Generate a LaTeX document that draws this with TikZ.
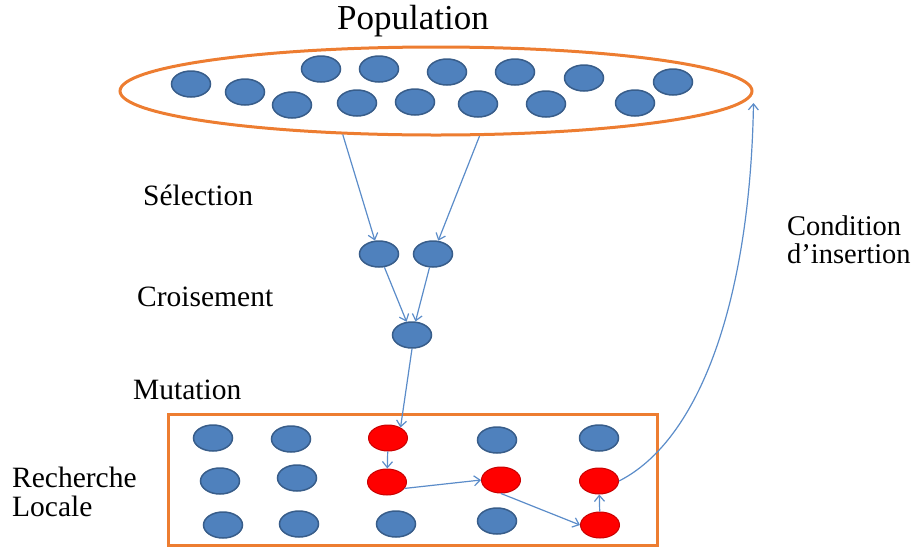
\documentclass[tikz,border=0pt]{standalone}
\usepackage{fontspec}
\setmainfont{Liberation Serif}
\usepackage{xcolor}
\usepackage{tikz}
\usetikzlibrary{arrows.meta}
\usetikzlibrary{shapes.geometric}
\definecolor{dotblue}{HTML}{4F81BD}
\definecolor{dotrim}{HTML}{385D8A}
\definecolor{linkblue}{HTML}{5B8CC9}
\definecolor{frameorange}{HTML}{ED7D31}
\definecolor{dotred}{HTML}{FF0000}
\definecolor{redrim}{HTML}{C80000}
\tikzset{
    dotnode/.style = {ellipse, inner sep=0pt, minimum width=39pt, minimum height=26pt},
    blue_dot/.style = {dotnode, draw=dotrim, fill=dotblue, line width=1.5pt},
    red_dot/.style = {dotnode, draw=redrim, fill=dotred, line width=1pt},
    pop_ring/.style = {ellipse, draw=frameorange, line width=3pt, minimum width=632pt, minimum height=88pt, inner sep=0pt},
    ls_box/.style = {rectangle, draw=frameorange, line width=3pt, minimum width=489pt, minimum height=131pt, inner sep=0pt},
    lbl/.style = {anchor=west, inner sep=0pt, align=left, font=\fontsize{29.5}{29}\selectfont},
    flow/.style = {->, draw=linkblue, line width=1.2pt}
}

\begin{document}
\begin{tikzpicture}
            [x=1pt, y=-1pt, >={Straight Barb[length=6pt, width=10pt]}]
            \useasboundingbox (0,0) rectangle (920,547);

            % population
            \node [pop_ring] (pop) at (436,91) {};
            \node [font=\fontsize{35}{35}\selectfont, inner sep=0pt] (title) at (413,21) {Population};
            \foreach \n/\x/\y in {1/191/84, 2/245/92, 3/292/105, 4/321/69, 5/357/103, 6/379/69, 7/415/102,
                                  8/447/72, 9/478/104, 10/515/72, 11/546/104, 12/584/78, 13/635/103, 14/673/82}
                \node [blue_dot] (p\n) at (\x,\y) {};

            % selection, croisement
            \node [blue_dot] (s1) at (379,254) {};
            \node [blue_dot] (s2) at (433,254) {};
            \node [blue_dot] (c) at (412,335) {};

            % recherche locale
            \node [ls_box] (ls) at (412.5,479.5) {};
            \foreach \n/\x/\y in {11/213/438, 12/291/439, 14/497/440, 15/599/438, 21/220/481, 22/297/478,
                                  31/223/525, 32/299/524, 33/396/524, 34/497/521}
                \node [blue_dot] (g\n) at (\x,\y) {};
            \foreach \n/\x/\y in {13/388/438, 23/387/482, 24/501/480, 25/599/481, 35/600/525}
                \node [red_dot] (g\n) at (\x,\y) {};

            % labels
            \node [lbl] (sel) at (143,195) {Sélection};
            \node [lbl] (crois) at (137,297) {Croisement};
            \node [lbl] (mut) at (133,390) {Mutation};
            \node [lbl] (rl) at (12,492) {Recherche\\Locale};
            \node [lbl, font=\fontsize{28.5}{28}\selectfont] (cond) at (787,240) {Condition\\d’insertion};

            % arrows
            \coordinate (ins) at ([yshift=-12pt]pop.east);
            \draw [flow] (pop.205) -- (s1);
            \draw [flow] (pop.-46) -- (s2);
            \draw [flow] (s1) -- (c);
            \draw [flow] (s2) -- (c);
            \draw [flow] (c.south) -- (g13.40);
            \draw [flow] (g13) -- (g23);
            \draw [flow] (g23.-20) -- (g24.west);
            \draw [flow] (g24.south) -- (g35.west);
            \draw [flow] (g35) -- (g25);
            \draw [flow] (g25.east) .. controls (700,440) and (750,300) .. (ins);
        \end{tikzpicture}
\end{document}
